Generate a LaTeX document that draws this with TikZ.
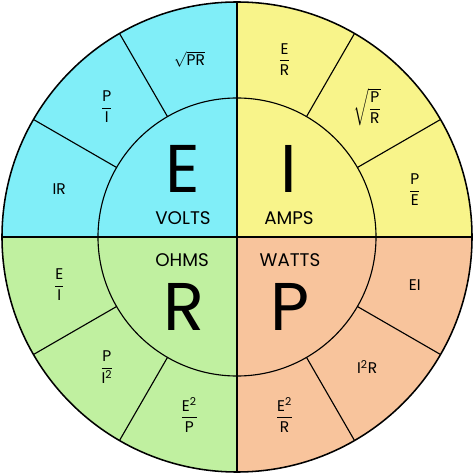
\documentclass[tikz,border=0pt]{standalone}
\usepackage{amsmath}
\usepackage{fontspec}
\setmainfont{Poppins}
\definecolor{voltfill}{RGB}{128,238,248}
\definecolor{ampfill}{RGB}{248,244,138}
\definecolor{ohmfill}{RGB}{192,240,160}
\definecolor{wattfill}{RGB}{248,196,156}
\newcommand{\fr}[2]{$\dfrac{\text{#1}}{\text{#2}}$}
\begin{document}
\begin{tikzpicture}[scale=0.025]
\tikzstyle{every node}+=[inner sep=0pt]
\tikzstyle{letter}=[font=\fontsize{48}{48}\selectfont]
\tikzstyle{unitname}=[font=\fontsize{13}{13}\selectfont]
\tikzstyle{formula}=[font=\fontsize{11}{13}\selectfont]
\useasboundingbox (-237,-237) rectangle (237,237);
\fill [voltfill] (0,0) -- (180:235) arc (180:90:235) -- cycle;
\fill [ampfill] (0,0) -- (90:235) arc (90:0:235) -- cycle;
\fill [ohmfill] (0,0) -- (270:235) arc (270:180:235) -- cycle;
\fill [wattfill] (0,0) -- (360:235) arc (360:270:235) -- cycle;
\draw [black, line width=1.1pt] (0,0) circle (235);
\draw [black, line width=0.8pt] (0,0) circle (139);
\draw [black, line width=0.8pt] (-235,0) -- (235,0);
\draw [black, line width=0.8pt] (0,-235) -- (0,235);
\draw [black, line width=0.8pt] (30:139) -- (30:235);
\draw [black, line width=0.8pt] (60:139) -- (60:235);
\draw [black, line width=0.8pt] (120:139) -- (120:235);
\draw [black, line width=0.8pt] (150:139) -- (150:235);
\draw [black, line width=0.8pt] (210:139) -- (210:235);
\draw [black, line width=0.8pt] (240:139) -- (240:235);
\draw [black, line width=0.8pt] (300:139) -- (300:235);
\draw [black, line width=0.8pt] (330:139) -- (330:235);
\draw (-54,68) node (E) [letter] {E};
\draw (-54,19) node (volts) [unitname] {VOLTS};
\draw (52,68) node (I) [letter] {I};
\draw (52,19) node (amps) [unitname] {AMPS};
\draw (-55,-23) node (ohms) [unitname] {OHMS};
\draw (-53,-70) node (R) [letter] {R};
\draw (53,-23) node (watts) [unitname] {WATTS};
\draw (53,-70) node (P) [letter] {P};
\draw (105:184) node (voltsPR) [formula] {$\sqrt{\text{PR}}$};
\draw (135:184) node (voltsPI) [formula] {\fr{P}{I}};
\draw (165:184) node (voltsIR) [formula] {IR};
\draw (75:184) node (ampsER) [formula] {\fr{E}{R}};
\draw (45:184) node (ampsPR) [formula] {$\sqrt{\dfrac{\text{P}}{\text{R}}}$};
\draw (15:184) node (ampsPE) [formula] {\fr{P}{E}};
\draw (195:184) node (ohmsEI) [formula] {\fr{E}{I}};
\draw (225:184) node (ohmsPI) [formula] {\fr{P}{I\textsuperscript{2}}};
\draw (255:184) node (ohmsEP) [formula] {\fr{E\textsuperscript{2}}{P}};
\draw (345:184) node (wattsEI) [formula] {EI};
\draw (315:184) node (wattsIR) [formula] {I\textsuperscript{2}R};
\draw (285:184) node (wattsER) [formula] {\fr{E\textsuperscript{2}}{R}};
\end{tikzpicture}
\end{document}
